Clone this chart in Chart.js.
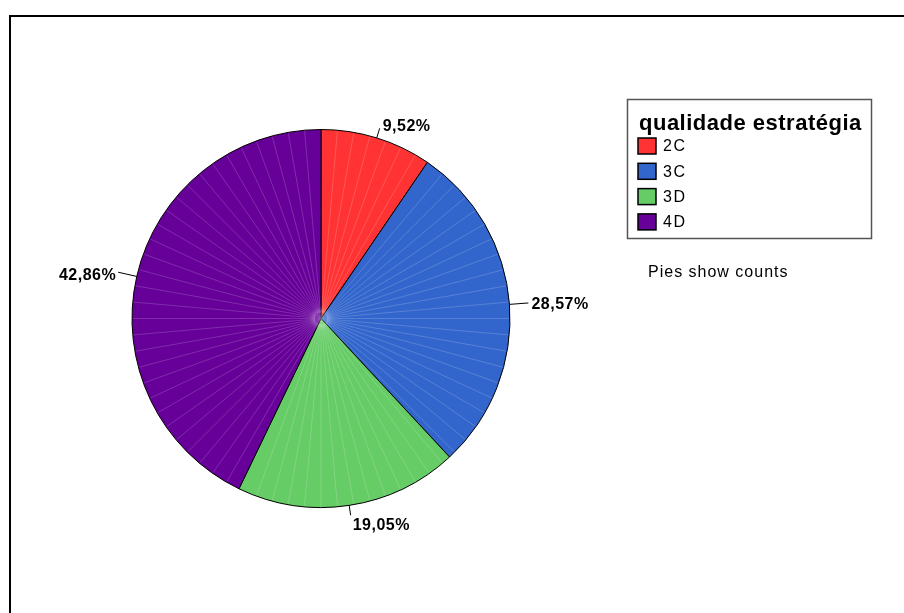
<!DOCTYPE html>
<html>
<head>
<meta charset="utf-8">
<script src="https://cdn.jsdelivr.net/npm/chart.js@4.4.1/dist/chart.umd.min.js"></script>
<style>
  html, body { margin: 0; padding: 0; background: #fff; overflow: hidden; width: 904px; height: 613px; }
  #frame { position: absolute; left: 9px; top: 15px; width: 900px; height: 598px; border-top: 2px solid #000; border-left: 2px solid #000; box-sizing: border-box; }
  #wrap { position: absolute; left: 0; top: 0; width: 904px; height: 613px; }
</style>
</head>
<body>
<div id="frame"></div>
<div id="wrap"><canvas id="pieChart" width="904" height="613"></canvas></div>
<script>
// data
var categories = ['2C', '3C', '3D', '4D'];
var counts = [2, 6, 4, 9];
var sliceColors = ['#FF3333', '#3366CC', '#66CC66', '#660099'];
var legendTitle = 'qualidade estratégia';
var footNote = 'Pies show counts';

var total = counts.reduce(function(a, b){ return a + b; }, 0);
function pctLabel(v) {
  return (v / total * 100).toFixed(2).replace('.', ',') + '%';
}

// faint white radial seams like the SPSS render
var seamsPlugin = {
  id: 'seams',
  afterDatasetsDraw: function(chart) {
    var ctx = chart.ctx;
    var step = 5 * Math.PI / 180;
    var pad = 0.8 * Math.PI / 180;
    var cx, cy;
    ctx.save();
    ctx.strokeStyle = 'rgba(255,255,255,0.25)';
    ctx.lineWidth = 0.7;
    chart.getDatasetMeta(0).data.forEach(function(arc) {
      var p = arc.getProps(['x', 'y', 'startAngle', 'endAngle', 'outerRadius'], true);
      cx = p.x; cy = p.y;
      var a = -Math.PI / 2;
      while (a < p.startAngle + pad) a += step;
      for (; a < p.endAngle - pad; a += step) {
        ctx.beginPath();
        ctx.moveTo(p.x + Math.cos(a) * 6, p.y + Math.sin(a) * 6);
        ctx.lineTo(p.x + Math.cos(a) * (p.outerRadius - 1), p.y + Math.sin(a) * (p.outerRadius - 1));
        ctx.stroke();
      }
    });
    // soft light spot at the centre
    var g = ctx.createRadialGradient(cx, cy, 0, cx, cy, 12);
    g.addColorStop(0, 'rgba(255,255,255,0.35)');
    g.addColorStop(1, 'rgba(255,255,255,0)');
    ctx.fillStyle = g;
    ctx.beginPath();
    ctx.arc(cx, cy, 12, 0, Math.PI * 2);
    ctx.fill();
    ctx.restore();
  }
};

// percentage labels with leader lines
var labelsPlugin = {
  id: 'pctLabels',
  afterDraw: function(chart) {
    var ctx = chart.ctx;
    var values = chart.data.datasets[0].data;
    ctx.save();
    ctx.font = 'bold 16px "Liberation Sans", Arial, sans-serif';
    ctx.letterSpacing = '0.5px';
    ctx.fillStyle = '#000';
    ctx.strokeStyle = '#000';
    ctx.lineWidth = 1;
    chart.getDatasetMeta(0).data.forEach(function(arc, i) {
      var p = arc.getProps(['x', 'y', 'startAngle', 'endAngle', 'outerRadius'], true);
      var mid = (p.startAngle + p.endAngle) / 2;
      var c = Math.cos(mid), s = Math.sin(mid);
      var len = Math.abs(c) > 0.9 ? 19 : 10;
      var x1 = p.x + c * p.outerRadius, y1 = p.y + s * p.outerRadius;
      var x2 = p.x + c * (p.outerRadius + len), y2 = p.y + s * (p.outerRadius + len);
      ctx.beginPath();
      ctx.moveTo(x1, y1);
      ctx.lineTo(x2, y2);
      ctx.stroke();
      var txt = pctLabel(values[i]);
      if (c > 0.5) {
        ctx.textAlign = 'left'; ctx.textBaseline = 'middle';
        ctx.fillText(txt, x2 + 3, y2 + 2);
      } else if (c < -0.5) {
        ctx.textAlign = 'right'; ctx.textBaseline = 'middle';
        ctx.fillText(txt, x2 - 2, y2 + 3);
      } else if (s < 0) {
        ctx.textAlign = 'left'; ctx.textBaseline = 'middle';
        ctx.fillText(txt, x2 + 3, y2 - 2);
      } else {
        ctx.textAlign = 'left'; ctx.textBaseline = 'top';
        ctx.fillText(txt, x2 + 2, y2 + 2);
      }
    });
    ctx.restore();
  }
};

// legend box + footnote, drawn from the chart data
var legendPlugin = {
  id: 'boxLegend',
  afterDraw: function(chart) {
    var ctx = chart.ctx;
    var ds = chart.data.datasets[0];
    ctx.save();
    ctx.strokeStyle = '#555';
    ctx.lineWidth = 1.5;
    ctx.strokeRect(627.5, 99.5, 244, 139);

    ctx.fillStyle = '#000';
    ctx.font = 'bold 22px "Liberation Sans", Arial, sans-serif';
    ctx.letterSpacing = '0.5px';
    ctx.textAlign = 'left';
    ctx.textBaseline = 'alphabetic';
    ctx.fillText(legendTitle, 639, 130);

    ctx.font = '16px "Liberation Sans", Arial, sans-serif';
    ctx.letterSpacing = '1.5px';
    ctx.textBaseline = 'middle';
    chart.data.labels.forEach(function(lab, i) {
      var cy = 146 + i * 25.3;
      ctx.fillStyle = ds.backgroundColor[i];
      ctx.fillRect(638, cy - 8, 18, 16);
      ctx.strokeStyle = '#000';
      ctx.lineWidth = 1.5;
      ctx.strokeRect(638, cy - 8, 18, 16);
      ctx.fillStyle = '#000';
      ctx.fillText(lab, 663, cy + 1);
    });

    ctx.letterSpacing = '1px';
    ctx.fillText(footNote, 648, 273);
    ctx.restore();
  }
};

var ctx = document.getElementById('pieChart').getContext('2d');
var pieChart = new Chart(ctx, {
  type: 'pie',
  data: {
    labels: categories,
    datasets: [{
      data: counts,
      backgroundColor: sliceColors,
      borderColor: '#000',
      borderWidth: 1,
      hoverOffset: 0
    }]
  },
  plugins: [seamsPlugin, labelsPlugin, legendPlugin],
  options: {
    responsive: false,
    animation: false,
    devicePixelRatio: 1,
    layout: {
      padding: { left: 131, right: 393, top: 129, bottom: 105 }
    },
    plugins: {
      legend: { display: false },
      tooltip: { enabled: false }
    }
  }
});
</script>
</body>
</html>
